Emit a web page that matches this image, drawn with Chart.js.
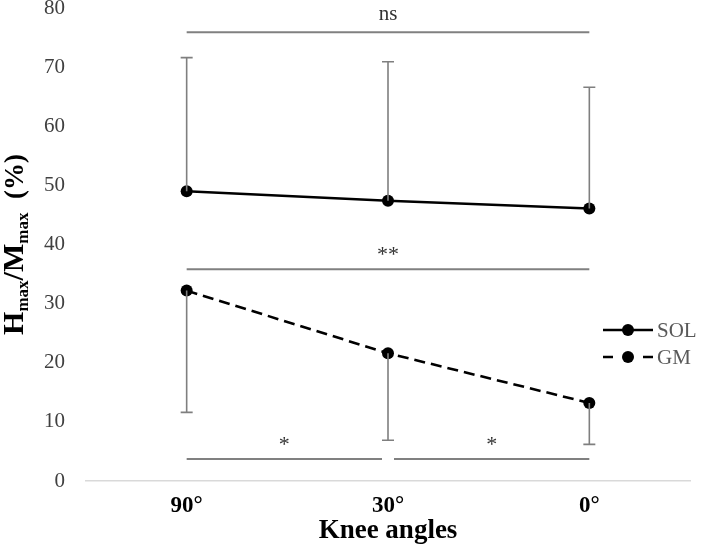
<!DOCTYPE html>
<html>
<head>
<meta charset="utf-8">
<script src="https://cdn.jsdelivr.net/npm/chart.js@4"></script>
<style>
    html, body { margin: 0; padding: 0; background: #fff; }
    #wrap { width: 702px; height: 555px; }
</style>
</head>
<body>
<div id="wrap"><canvas id="chart1"></canvas></div>
<script>
// Values (H max / M max in %)
const kneeAngles = ["90°", "30°", "0°"];
const solMean = [49.0, 47.4, 46.1];
const solSD = [22.6, 23.5, 20.5];   // drawn upward only
const gmMean = [32.2, 21.6, 13.2];
const gmSD = [20.6, 14.7, 7.0];     // drawn downward only
const yTicks = [0, 10, 20, 30, 40, 50, 60, 70, 80];

// Significance brackets: category index range, level on y axis, label
const bracketFrom = [0, 0, 0, 1];
const bracketTo = [2, 2, 1, 2];
const bracketLevel = [75.9, 35.8, 3.7, 3.7];
const bracketLabel = ["ns", "**", "*", "*"];

const serif = "'Liberation Serif', 'Times New Roman', serif";

// Error bars, brackets, legend and the y title with subscripts
const extrasPlugin = {
    id: "extras",
    afterDatasetsDraw(chart) {
        const ctx = chart.ctx;
        const x = chart.scales.x;
        const y = chart.scales.y;

        ctx.save();
        ctx.strokeStyle = "#7f7f7f";
        ctx.lineWidth = 1.6;
        const cap = 6;
        const drawBar = (i, from, to) => {
            const px = x.getPixelForValue(i);
            const y0 = y.getPixelForValue(from);
            const y1 = y.getPixelForValue(to);
            ctx.beginPath();
            ctx.moveTo(px, y0);
            ctx.lineTo(px, y1);
            ctx.moveTo(px - cap, y1);
            ctx.lineTo(px + cap, y1);
            ctx.stroke();
        };
        solMean.forEach((m, i) => drawBar(i, m, m + solSD[i]));
        gmMean.forEach((m, i) => drawBar(i, m, m - gmSD[i]));
        ctx.restore();
    },
    afterDraw(chart) {
        const ctx = chart.ctx;
        const x = chart.scales.x;
        const y = chart.scales.y;

        // significance brackets
        ctx.save();
        ctx.strokeStyle = "#808080";
        ctx.lineWidth = 2;
        ctx.fillStyle = "#333";
        ctx.textAlign = "center";
        ctx.textBaseline = "alphabetic";
        bracketLabel.forEach((lab, k) => {
            let x0 = x.getPixelForValue(bracketFrom[k]);
            let x1 = x.getPixelForValue(bracketTo[k]);
            if (bracketTo[k] - bracketFrom[k] === 1) {
                if (bracketFrom[k] > 0) x0 += 6; else x1 -= 6;
            }
            const py = y.getPixelForValue(bracketLevel[k]);
            ctx.beginPath();
            ctx.moveTo(x0, py);
            ctx.lineTo(x1, py);
            ctx.stroke();
            ctx.font = (lab === "ns" ? "21px " : "22px ") + serif;
            ctx.fillText(lab, (x0 + x1) / 2, lab === "ns" ? py - 12 : py - 8);
        });
        ctx.restore();

        // legend
        ctx.save();
        const ds = chart.data.datasets;
        const legY = [330, 357];
        ds.forEach((d, k) => {
            const ly = legY[k];
            ctx.strokeStyle = d.borderColor;
            ctx.lineWidth = d.borderWidth;
            ctx.setLineDash(k === 0 ? [] : [10, 30]);
            ctx.beginPath();
            ctx.moveTo(603, ly);
            ctx.lineTo(653, ly);
            ctx.stroke();
            ctx.setLineDash([]);
            ctx.fillStyle = d.pointBackgroundColor;
            ctx.beginPath();
            ctx.arc(628, ly, d.pointRadius, 0, Math.PI * 2);
            ctx.fill();
            ctx.fillStyle = "#595959";
            ctx.font = "21px " + serif;
            ctx.textAlign = "left";
            ctx.textBaseline = "middle";
            ctx.fillText(d.label, 657, ly + 1);
        });
        ctx.restore();

        // y axis title: H_max/M_max (%)
        ctx.save();
        const parts = [
            { t: "H", s: 30, dy: 0 },
            { t: "max", s: 17, dy: 5 },
            { t: "/M", s: 30, dy: 0 },
            { t: "max", s: 17, dy: 5 },
            { t: "  (%)", s: 27, dy: 0 }
        ];
        ctx.fillStyle = "#000";
        ctx.textBaseline = "alphabetic";
        let total = 0;
        parts.forEach(p => {
            ctx.font = "bold " + p.s + "px " + serif;
            p.w = ctx.measureText(p.t).width;
            total += p.w;
        });
        const cy = (chart.chartArea.top + chart.chartArea.bottom) / 2;
        ctx.translate(23, cy);
        ctx.rotate(-Math.PI / 2);
        let cx = -total / 2;
        parts.forEach(p => {
            ctx.font = "bold " + p.s + "px " + serif;
            ctx.fillText(p.t, cx, p.dy);
            cx += p.w;
        });
        ctx.restore();

        // x axis title
        ctx.save();
        ctx.fillStyle = "#000";
        ctx.font = "bold 27px " + serif;
        ctx.textAlign = "center";
        ctx.textBaseline = "middle";
        ctx.fillText("Knee angles", (chart.chartArea.left + chart.chartArea.right) / 2, 531);
        ctx.restore();
    }
};

const chartData = {
    labels: kneeAngles,
    datasets: [
        {
            label: "SOL",
            data: solMean,
            borderColor: "#000",
            backgroundColor: "#000",
            pointBackgroundColor: "#000",
            pointBorderWidth: 0,
            borderWidth: 2.6,
            pointRadius: 6,
            tension: 0
        },
        {
            label: "GM",
            data: gmMean,
            borderColor: "#000",
            backgroundColor: "#000",
            pointBackgroundColor: "#000",
            pointBorderWidth: 0,
            borderWidth: 2.6,
            borderDash: [11, 6],
            pointRadius: 6,
            tension: 0
        }
    ]
};

const chartConfig = {
    type: "line",
    data: chartData,
    options: {
        responsive: true,
        maintainAspectRatio: false,
        animation: false,
        layout: {
            padding: { left: 0, right: 12, top: 8, bottom: 0 }
        },
        plugins: {
            legend: { display: false },
            tooltip: { enabled: false }
        },
        scales: {
            x: {
                offset: true,
                grid: { display: false },
                border: { display: true, color: "#d9d9d9", width: 1.5 },
                ticks: {
                    color: "#000",
                    padding: 3,
                    font: { family: serif, size: 23, weight: "bold" }
                },
                afterFit: (scale) => {
                    scale.height = 74;
                    scale.paddingLeft = 0;
                    scale.paddingRight = 0;
                }
            },
            y: {
                min: 0,
                max: 80,
                afterBuildTicks: (scale) => {
                    scale.ticks = yTicks.map(v => ({ value: v }));
                },
                grid: { display: false },
                border: { display: false },
                ticks: {
                    color: "#404040",
                    padding: 13,
                    font: { family: serif, size: 21 }
                },
                afterFit: (scale) => {
                    scale.width = 86;
                    scale.paddingTop = 0;
                    scale.paddingBottom = 0;
                }
            }
        }
    },
    plugins: [extrasPlugin]
};

new Chart(document.getElementById("chart1"), chartConfig);
</script>
</body>
</html>
